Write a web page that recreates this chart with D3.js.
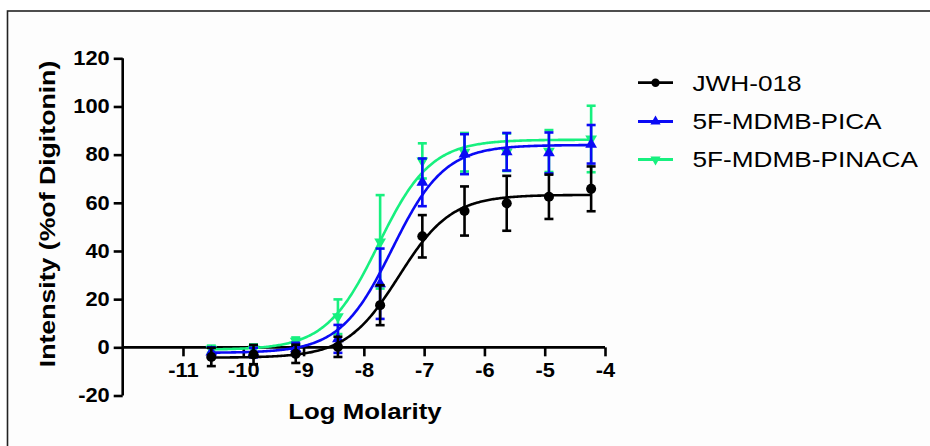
<!DOCTYPE html>
<html>
<head>
<meta charset="utf-8">
<script src="https://cdn.jsdelivr.net/npm/d3@7"></script>
<style>
  html, body { margin: 0; padding: 0; background: #ffffff; }
  svg { display: block; }
  text { font-family: "Liberation Sans", Arial, Helvetica, sans-serif; fill: #000; }
</style>
</head>
<body>
<svg id="chart" width="930" height="446"></svg>
<script>
// Concentration points (log molar)
const logM = [-10.53, -9.83, -9.13, -8.43, -7.73, -7.03, -6.33, -5.63, -4.93, -4.23];

// Series names
const seriesNames = ["JWH-018", "5F-MDMB-PICA", "5F-MDMB-PINACA"];

// Mean response (% of digitonin)
const jwhMean    = [-4.0, -3.0, -2.7, 0.2, 17.5, 46.1, 56.6, 59.8, 62.5, 65.8];
const picaMean   = [-2.0, -2.2, -0.6, 3.5, 26.4, 68.5, 80.2, 81.2, 80.7, 84.3];
const pinacaMean = [-0.8, -0.6, 2.6, 12.7, 43.8, 77.4, 81.0, 81.0, 81.5, 86.5];

// Standard deviations
const jwhSD    = [3.8, 4.0, 3.8, 4.2, 8.3, 8.8, 10.2, 11.4, 9.2, 9.3];
const picaSD   = [2.0, 2.0, 2.5, 5.8, 14.6, 9.9, 8.3, 7.8, 8.5, 8.0];
const pinacaSD = [1.5, 1.8, 1.5, 7.2, 19.4, 7.3, 8.0, 7.8, 8.7, 13.8];

// Four-parameter logistic fits: bottom, top, logEC50, Hill slope
const fitBottom  = [-4.3, -2.3, -1.0];
const fitTop     = [63.3, 84.0, 86.2];
const fitLogEC50 = [-7.42, -7.53, -7.76];
const fitHill    = [1.0, 1.0, 1.0];

// Axis ticks
const xTicks = [-11, -10, -9, -8, -7, -6, -5, -4];
const yTicks = [-20, 0, 20, 40, 60, 80, 100, 120];

const colors = ["#000000", "#0a0af5", "#17f07f"];
const symbols = [d3.symbolCircle, d3.symbolTriangle, "triangleDown"];

const svg = d3.select("#chart");

// Outer frame
svg.append("rect").attr("x", 7.5).attr("y", 11).attr("width", 940).attr("height", 450)
  .attr("fill", "#fdfdfd").attr("stroke", "#222").attr("stroke-width", 1.6);

const x = d3.scaleLinear().domain([-12, -4]).range([122.7, 605]);
const y = d3.scaleLinear().domain([-20, 120]).range([395.5, 58.3]);

function stretch(sel, k) {
  sel.each(function () {
    const w = this.getComputedTextLength();
    this.setAttribute("textLength", w * k);
    this.setAttribute("lengthAdjust", "spacingAndGlyphs");
  });
}

// Plain hyphen-minus for negative tick labels
const fmt = d => String(d);

// Y axis
const yAxis = svg.append("g").attr("transform", `translate(${x(-12)},0)`)
  .call(d3.axisLeft(y).tickValues(yTicks).tickFormat(fmt).tickSize(9).tickSizeOuter(0).tickPadding(4));
yAxis.selectAll("path, line").attr("stroke", "#000").attr("stroke-width", 2.6);
yAxis.select(".domain").attr("d", `M0,${y(-20)}V${y(120)}`);
yAxis.selectAll("text").attr("font-size", 19.5).attr("font-weight", "bold")
  .attr("font-family", "Liberation Sans, Arial, sans-serif").attr("fill", "#000");
stretch(yAxis.selectAll("text"), 1.12);

// X axis drawn along y = 0
const xAxis = svg.append("g").attr("transform", `translate(0,${y(0)})`)
  .call(d3.axisBottom(x).tickValues(xTicks).tickFormat(fmt).tickSize(9).tickSizeOuter(0).tickPadding(7));
xAxis.selectAll("path, line").attr("stroke", "#000").attr("stroke-width", 2.6);
xAxis.select(".domain").attr("d", `M${x(-12)},0H${x(-4)}`);
xAxis.selectAll("text").attr("font-size", 19.5).attr("font-weight", "bold")
  .attr("font-family", "Liberation Sans, Arial, sans-serif").attr("fill", "#000");
stretch(xAxis.selectAll("text"), 1.12);

// Axis titles
const xTitle = svg.append("text").attr("x", 365).attr("y", 419)
  .attr("text-anchor", "middle").attr("font-size", 21.5).attr("font-weight", "bold")
  .text("Log Molarity");
stretch(xTitle, 1.2);

const yTitle = svg.append("text")
  .attr("transform", "translate(55,214) rotate(-90)")
  .attr("text-anchor", "middle").attr("font-size", 21.5).attr("font-weight", "bold")
  .text("Intensity (%of Digitonin)");
stretch(yTitle, 1.24);

// Marker paths
function markerPath(kind, size) {
  if (kind === "triangleDown") {
    const p = d3.symbol().type(d3.symbolTriangle).size(size)();
    return { d: p, rot: 180 };
  }
  return { d: d3.symbol().type(kind).size(size)(), rot: 0 };
}

const means = [jwhMean, picaMean, pinacaMean];
const sds = [jwhSD, picaSD, pinacaSD];

function logistic(i, v) {
  return fitBottom[i] + (fitTop[i] - fitBottom[i]) / (1 + Math.pow(10, (fitLogEC50[i] - v) * fitHill[i]));
}

const line = d3.line().x(d => x(d[0])).y(d => y(d[1])).curve(d3.curveLinear);
const capHalf = 4.5;

// Draw last series first so JWH-018 sits on top
[2, 1, 0].forEach(i => {
  const g = svg.append("g");
  const col = colors[i];
  const xs = d3.range(logM[0], logM[logM.length - 1] + 0.001, 0.02);
  const pts = xs.map(v => [v, logistic(i, v)]);
  g.append("path").attr("d", line(pts)).attr("fill", "none")
    .attr("stroke", col).attr("stroke-width", 2.6);

  logM.forEach((v, j) => {
    const m = means[i][j], s = sds[i][j];
    const cx = x(v), yt = y(m + s), yb = y(m - s);
    g.append("line").attr("x1", cx).attr("x2", cx).attr("y1", yt).attr("y2", yb)
      .attr("stroke", col).attr("stroke-width", 2.6);
    [yt, yb].forEach(yy => g.append("line").attr("x1", cx - capHalf).attr("x2", cx + capHalf)
      .attr("y1", yy).attr("y2", yy).attr("stroke", col).attr("stroke-width", 2.6));
    const mk = markerPath(symbols[i], i === 0 ? 80 : 60);
    g.append("path").attr("d", mk.d).attr("fill", col)
      .attr("transform", `translate(${cx},${y(m)}) rotate(${mk.rot})`);
  });
});

// Legend
const legendRows = [82.7, 121.5, 159.5];
seriesNames.forEach((name, i) => {
  const g = svg.append("g").attr("transform", `translate(0,${legendRows[i]})`);
  g.append("line").attr("x1", 638).attr("x2", 673).attr("y1", 0).attr("y2", 0)
    .attr("stroke", colors[i]).attr("stroke-width", 2.8);
  const mk = markerPath(symbols[i], i === 0 ? 55 : 45);
  g.append("path").attr("d", mk.d).attr("fill", colors[i])
    .attr("transform", `translate(655.5,0) rotate(${mk.rot})`);
  const t = g.append("text").attr("x", 692.5).attr("y", 0).attr("dy", "0.36em")
    .attr("font-size", 22).text(name);
  stretch(t, 1.19);
});
</script>
</body>
</html>
